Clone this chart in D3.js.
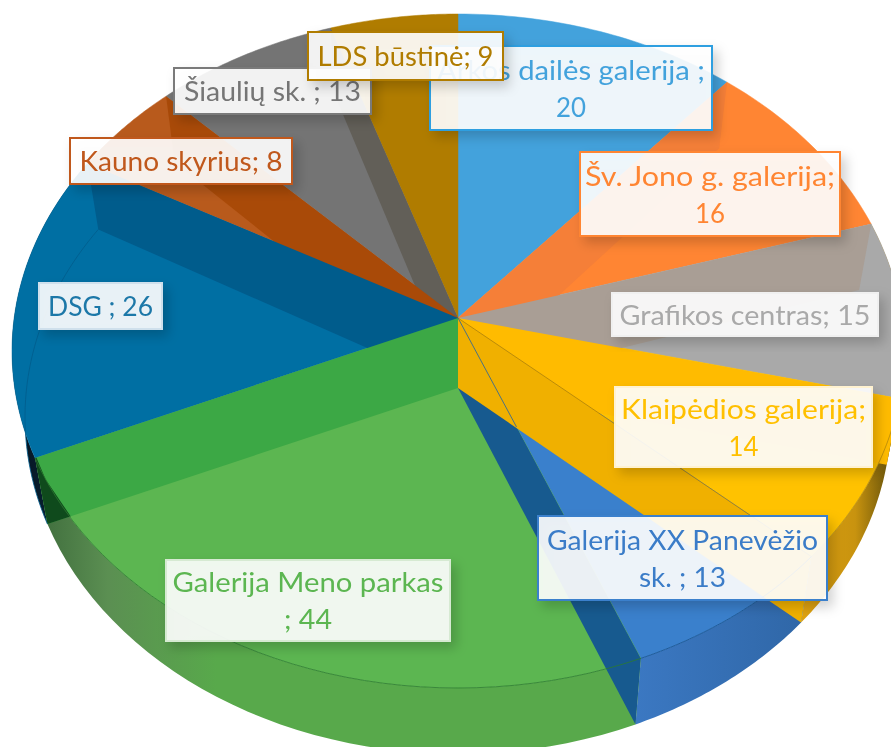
<!DOCTYPE html>
<html>
<head>
<meta charset="utf-8">
<script src="https://cdn.jsdelivr.net/npm/d3@7"></script>
<style>
    html, body { margin: 0; padding: 0; background: #fff; overflow: hidden; }
    text { font-family: Lato, "Open Sans", sans-serif; }
</style>
</head>
<body>
<svg id="chart" width="891" height="747"></svg>
<script>
const galleries = ["Arkos dailės galerija ", "Šv. Jono g. galerija", "Grafikos centras", "Klaipėdios galerija",
    "Galerija XX Panevėžio sk. ", "Galerija Meno parkas ", "DSG ", "Kauno skyrius", "Šiaulių sk. ", "LDS  būstinė"];
const counts = [20, 16, 15, 14, 13, 44, 26, 8, 13, 9];
// characters kept on the first label line, 0 = no wrap
const labelBreaks = [23, 21, 0, 20, 21, 20, 0, 0, 0, 0];

const topColors = ["#43a2dc", "#ff8533", "#a9a9a9", "#ffc200", "#3a80cc", "#5cb651", "#006fa3", "#b85a1c", "#747474", "#b07c00"];
const wallColors = ["#f57f38", "#a99e95", "#ffbb00", "#f0b000", "#175a8f", "#3ca845", "#005c8c", "#a94a08", "#625f58", null];
const textColors = ["#43a2dc", "#ff8533", "#a9a9a9", "#ffc000", "#3a7cc8", "#5cb651", "#1f78a8", "#c0581c", "#747474", "#b07c00"];
const borderColors = ["#2f9fe0", "#ff8533", "#f0f0f0", "#fff2d0", "#3a80cc", "#d6ead2", "#cfe0ec", "#c0581c", "#7a7a7a", "#b07c00"];

// label boxes: x, y, w, h
const labelBoxes = [
    [430, 46, 282, 84], [580, 152, 260, 84], [612, 293, 266, 43], [615, 387, 257, 80], [538, 516, 289, 84],
    [166, 560, 284, 81], [39, 283, 123, 46], [70, 138, 222, 46], [174, 68, 197, 46], [308, 32, 195, 48]
];
// widths of the label lines as measured
const labelLineWidths = [[268, 30], [250, 30], [251], [245, 30], [271, 87], [271, 48], [105], [203], [177], [176]];

const svg = d3.select("#chart");
const defs = svg.append("defs");

// perspective of the 3D pie
const apexTop = [458, 318], apexBottom = [458, 388];
const rimTop = { cx: 458, cy: 351, rx: 446, ry: 337 };
const rimBottom = { cx: 458, cy: 417, rx: 433, ry: 337 };
const warp = t => t - 0.09 * Math.sin(t);
const onRim = (rim, t) => [rim.cx + rim.rx * Math.sin(warp(t)), rim.cy - rim.ry * Math.cos(warp(t))];
const rimArc = (rim, t0, t1) => d3.range(0, 41).map(i => onRim(rim, t0 + (t1 - t0) * i / 40));

const slices = d3.pie().sort(null).value(d => d)(counts);
const line = d3.line();
const poly = pts => line(pts) + "Z";

function addGradient(id, stops) {
    const g = defs.append("linearGradient").attr("id", id);
    stops.forEach(s => g.append("stop").attr("offset", s[0]).attr("stop-color", s[1]));
}
addGradient("wallYellow", [[0, "#dfa20f"], [0.55, "#c8930f"], [1, "#4f4208"]]);
addGradient("wallBlue", [[0, "#3b78c2"], [1, "#2f66a6"]]);
addGradient("wallGreen", [[0, "#3e6b3c"], [0.12, "#5b8f52"], [0.3, "#58a94b"], [1, "#58a94b"]]);
addGradient("wallDsg", [[0, "#06121c"], [1, "#0a3350"]]);

defs.append("filter").attr("id", "soft").attr("x", "-10%").attr("y", "-15%").attr("width", "130%").attr("height", "150%")
    .append("feDropShadow").attr("dx", 5).attr("dy", 6).attr("stdDeviation", 6).attr("flood-color", "#000").attr("flood-opacity", 0.2);
defs.append("filter").attr("id", "blurText").append("feGaussianBlur").attr("stdDeviation", 0.5);

// everything outside the top rim, for the wall ends
defs.append("clipPath").attr("id", "outsideTop").append("path")
    .attr("clip-rule", "evenodd")
    .attr("d", "M0,0H891V747H0Z" + poly(rimArc(rimTop, 0, 2 * Math.PI)));

const pie = svg.append("g");

// outer walls first, the top faces cover what lies inside the rim
const outerWalls = [[2, "url(#wallYellow)"], [3, "url(#wallYellow)"], [4, "url(#wallBlue)"], [5, "url(#wallGreen)"], [6, "url(#wallDsg)"]];
outerWalls.forEach(([i, fill]) => {
    const s = slices[i];
    const pts = rimArc(rimTop, s.startAngle, s.endAngle).concat(rimArc(rimBottom, s.startAngle, s.endAngle).reverse());
    pie.append("path").attr("d", poly(pts)).attr("fill", fill);
});

pie.selectAll("path.face")
    .data(slices)
    .join("path")
    .attr("class", "face")
    .attr("d", s => poly([apexTop].concat(rimArc(rimTop, s.startAngle, s.endAngle))))
    .attr("fill", (s, i) => topColors[i])
    .attr("stroke", (s, i) => topColors[i])
    .attr("stroke-width", 0.5);

// inner walls, each boundary is the end of one slice
const wallOrder = [0, 1, 2, 4, 3, 8, 7, 6, 5];
wallOrder.forEach(i => {
    const t = slices[i].endAngle;
    pie.append("path")
        .attr("d", poly([apexTop, onRim(rimTop, t), onRim(rimBottom, t), apexBottom]))
        .attr("fill", wallColors[i]);
});

// dark end of the green wall, outside the rim
const greenEnd = slices[5].endAngle;
pie.append("path")
    .attr("d", poly([apexTop, onRim(rimTop, greenEnd), onRim(rimBottom, greenEnd), apexBottom]))
    .attr("fill", "#0f4a1c")
    .attr("clip-path", "url(#outsideTop)");

// thin edges
const thin = (pts, color, op) => pie.append("path").attr("d", line(pts)).attr("fill", "none")
    .attr("stroke", color).attr("stroke-width", 1).attr("stroke-opacity", op);
thin(rimArc(rimTop, slices[3].startAngle, slices[3].endAngle), "#8a6a10", 0.5);
thin(rimArc(rimTop, slices[4].startAngle, slices[4].endAngle), "#14508c", 0.8);
thin(rimArc(rimTop, slices[5].startAngle, slices[5].endAngle), "#2c7a30", 0.8);
thin(rimArc(rimBottom, slices[6].startAngle, slices[6].endAngle), "#005c8c", 0.8);
thin([apexTop, onRim(rimTop, slices[3].endAngle)], "#8a6a10", 0.55);
const rayEnd = onRim(rimTop, slices[4].endAngle);
thin([apexTop, [apexTop[0] + (rayEnd[0] - apexTop[0]) * 0.32, apexTop[1] + (rayEnd[1] - apexTop[1]) * 0.32]], "#3a6a90", 0.9);

// data labels, later ones sit on top
const labels = svg.append("g");
galleries.forEach((name, i) => {
    const [x, y, w, h] = labelBoxes[i];
    const full = `${name}; ${counts[i]}`;
    const lines = labelBreaks[i] ? [full.slice(0, labelBreaks[i]).trim(), full.slice(labelBreaks[i]).trim()] : [full];
    const g = labels.append("g");
    g.append("rect").attr("x", x).attr("y", y).attr("width", w).attr("height", h)
        .attr("fill", "#fff").attr("fill-opacity", 0.9)
        .attr("stroke", borderColors[i]).attr("stroke-width", 2)
        .attr("filter", "url(#soft)");
    const lineHeight = 37;
    const firstBase = y + h / 2 + 10 - (lines.length - 1) * lineHeight / 2;
    g.selectAll("text")
        .data(lines)
        .join("text")
        .attr("x", x + w / 2)
        .attr("y", (d, j) => firstBase + j * lineHeight)
        .attr("text-anchor", "middle")
        .attr("font-size", 26)
        .attr("textLength", (d, j) => labelLineWidths[i][j])
        .attr("lengthAdjust", "spacingAndGlyphs")
        .attr("fill", textColors[i])
        .attr("filter", "url(#blurText)")
        .text(d => d);
});
</script>
</body>
</html>
